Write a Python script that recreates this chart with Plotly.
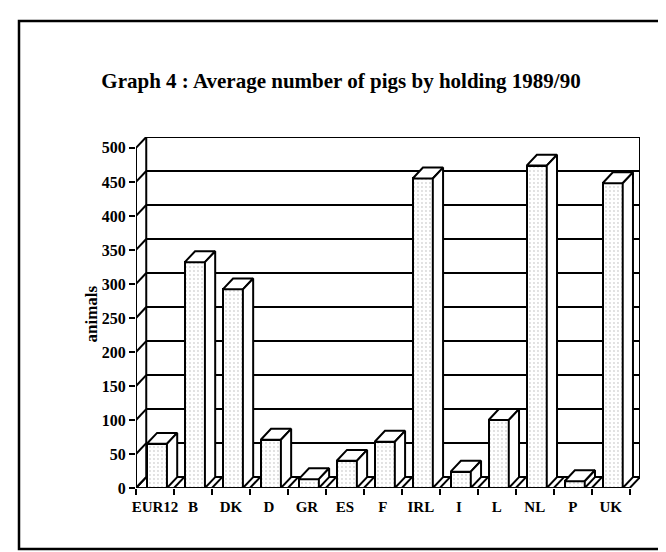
import plotly.graph_objects as go

# ---- data ----
categories = ["EUR12", "B", "DK", "D", "GR", "ES", "F", "IRL", "I", "L", "NL", "P", "UK"]
values = [65, 332, 292, 71, 13, 40, 68, 455, 24, 100, 474, 10, 448]
y_ticks = [0, 50, 100, 150, 200, 250, 300, 350, 400, 450, 500]
title_text = "Graph 4 : Average number of pigs by holding 1989/90"
y_label = "animals"

# ---- geometry (data units) ----
n = len(categories)
DX = 0.27      # depth offset in category units
DY = 16        # depth offset in value units
BW = 0.53      # bar front width
BOFF = 0.05    # bar shift
W, H = 666, 552
L, R, T, B = 128, 34, 129, 72
FONT = "Liberation Serif"
LW = 2

xs = list(range(n))
fig = go.Figure()

# front faces of the columns
fig.add_trace(go.Bar(
    x=[x + BOFF for x in xs], y=values, width=BW,
    marker=dict(color="white", line=dict(color="black", width=LW),
                pattern=dict(shape=".", fgcolor="#b0b0b0", bgcolor="white", size=4, solidity=0.18)),
    hoverinfo="skip", showlegend=False,
))

# top & side faces as filled polygons
for x, v in zip(xs, values):
    x0 = x + BOFF - BW / 2
    x1 = x + BOFF + BW / 2
    fig.add_trace(go.Scatter(
        x=[x0, x1, x1 + DX, x0 + DX, x0], y=[v, v, v + DY, v + DY, v],
        mode="lines", fill="toself", fillcolor="white",
        line=dict(color="black", width=LW), hoverinfo="skip", showlegend=False))
    fig.add_trace(go.Scatter(
        x=[x1, x1 + DX, x1 + DX, x1, x1], y=[0, DY, v + DY, v, 0],
        mode="lines", fill="toself", fillcolor="white",
        line=dict(color="black", width=LW), hoverinfo="skip", showlegend=False))

shapes = []
xl, xr = -0.5, n - 0.5
line = dict(color="black", width=LW)
# back wall
shapes.append(dict(type="rect", xref="x", yref="y", x0=xl + DX, x1=xr + DX, y0=DY, y1=y_ticks[-1] + DY,
                   line=line, layer="below"))
for v in y_ticks[1:-1]:
    shapes.append(dict(type="line", xref="x", yref="y", x0=xl + DX, x1=xr + DX, y0=v + DY, y1=v + DY,
                       line=line, layer="below"))
# left side wall
for v in y_ticks:
    shapes.append(dict(type="line", xref="x", yref="y", x0=xl, x1=xl + DX, y0=v, y1=v + DY,
                       line=line, layer="below"))
shapes.append(dict(type="line", xref="x", yref="y", x0=xl, x1=xl, y0=0, y1=y_ticks[-1], line=line, layer="below"))
# floor
shapes.append(dict(type="line", xref="x", yref="y", x0=xl, x1=xr, y0=0, y1=0, line=line, layer="below"))
for i in range(n + 1):
    b = xl + i
    shapes.append(dict(type="line", xref="x", yref="y", x0=b, x1=b + DX, y0=0, y1=DY, line=line, layer="below"))

# outer frame (pixel -> paper)
pw = W - L - R
ph = H - T - B
def px(xp):
    return (xp - L) / pw
def py(yp):
    return (H - B - yp) / ph
shapes.append(dict(type="rect", xref="paper", yref="paper", x0=px(11), x1=px(655), y0=py(541), y1=py(13),
                   line=dict(color="black", width=2.5)))

fig.update_layout(
    width=W, height=H,
    margin=dict(l=L, r=R, t=T, b=B),
    paper_bgcolor="white", plot_bgcolor="rgba(0,0,0,0)",
    font=dict(family=FONT, color="black", size=15),
    shapes=shapes,
    bargap=0,
    title=dict(text="<b>" + title_text + "</b>", x=0.5, xanchor="center", y=1 - 73 / H, yanchor="middle",
               font=dict(family=FONT, size=21, color="black")),
    xaxis=dict(range=[xl, xr + DX], tickvals=[xl + i for i in range(n + 1)], showticklabels=False,
               ticks="outside", ticklen=6, tickwidth=LW, tickcolor="black",
               showgrid=False, zeroline=False, showline=False, fixedrange=True),
    xaxis2=dict(overlaying="x", matches="x", side="bottom", tickvals=xs,
                ticktext=["<b>" + c + "</b>" for c in categories], ticks="", ticklabelstandoff=8,
                showgrid=False, zeroline=False, showline=False,
                tickfont=dict(family=FONT, size=15, color="black")),
    yaxis=dict(range=[0, y_ticks[-1] + DY], tickvals=y_ticks, ticktext=["<b>%d</b>" % v for v in y_ticks],
               ticks="outside", ticklen=6, tickwidth=LW, tickcolor="black",
               showgrid=False, zeroline=False, showline=False,
               tickfont=dict(family=FONT, size=16, color="black")),
    annotations=[dict(text="<b>" + y_label + "</b>", xref="paper", yref="paper", x=px(71), y=py(306),
                      textangle=-90, showarrow=False, font=dict(family=FONT, size=17, color="black"))],
)
# dummy trace to activate xaxis2
fig.add_trace(go.Scatter(x=[0], y=[0], xaxis="x2", mode="markers", marker=dict(opacity=0),
                         hoverinfo="skip", showlegend=False))

fig.write_html("out.html")
